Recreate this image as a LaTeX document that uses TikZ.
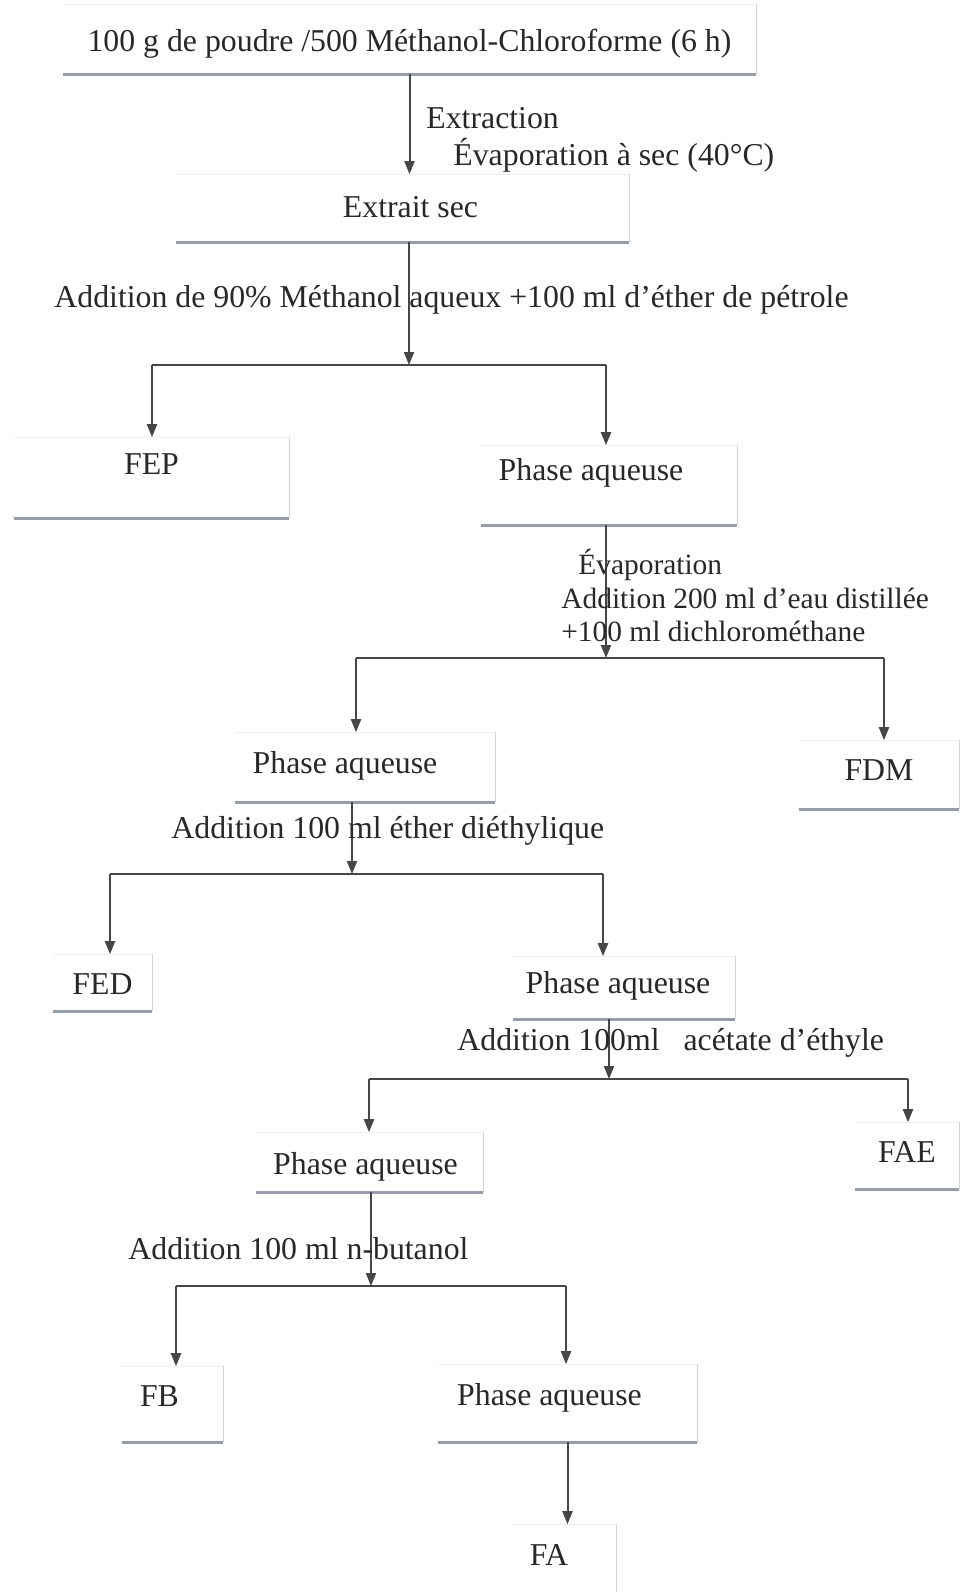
\documentclass[tikz,border=0pt]{standalone}
\usepackage{fontspec}
\setmainfont{Liberation Serif}
\usetikzlibrary{arrows.meta,calc}

\definecolor{trait}{RGB}{70,70,70}
\definecolor{encre}{RGB}{40,40,40}
\definecolor{bordbas}{RGB}{150,156,172}
\definecolor{bordcote}{RGB}{212,212,216}
\definecolor{bordhaut}{RGB}{238,238,241}

\tikzset{
	fl/.style={draw=trait, line width=1pt, -{Triangle[length=6.5pt,width=5pt]}},
	branche/.style={draw=trait, line width=1pt},
	boite/.style={anchor=south, inner xsep=0pt, inner ysep=0pt, minimum width=#1, text=encre,
		append after command={
			(\tikzlastnode.north west) edge[draw=bordhaut, line width=0.5pt] (\tikzlastnode.north east)
			(\tikzlastnode.south east) edge[draw=bordcote, line width=0.6pt] (\tikzlastnode.north east)
			(\tikzlastnode.south west) edge[draw=bordbas, line width=1.5pt] (\tikzlastnode.south east)}},
	etiq/.style={anchor=base west, inner sep=0pt, text=encre},
	petit/.style={font=\fontsize{14.7}{18}\selectfont}
}

\begin{document}
\begin{tikzpicture}[x=0.5pt, y=-0.5pt, font=\fontsize{15.9}{19}\selectfont]
			%%%%% START %%%%%
			\useasboundingbox[fill=white] (0, 0) rectangle (961, 1592);
			
			\node[boite=346.5pt, text height=23.5pt, text depth=11pt] (depart) at (409.5, 74) {100 g de poudre /500 Méthanol-Chloroforme (6 h)};
			\node[boite=226.5pt, text height=21.5pt, text depth=12pt] (extrait) at (402.5, 242) {\hspace*{8pt}Extrait sec};
			
			\node[boite=137.5pt, text height=18.5pt, text depth=21.5pt] (fep) at (151.5, 518) {FEP};
			\node[boite=128pt, text height=17.5pt, text depth=22pt] (pa1) at (609, 525) {Phase aqueuse\hspace*{18pt}};
			
			\node[boite=130pt, text height=20.5pt, text depth=14pt] (pa2) at (365, 802) {Phase aqueuse\hspace*{20pt}};
			\node[boite=80pt, text height=20pt, text depth=14pt] (fdm) at (879, 809) {FDM};
			
			\node[boite=49.5pt, text height=20pt, text depth=8pt] (fed) at (102.5, 1011) {FED};
			\node[boite=111pt, text height=18.5pt, text depth=12.5pt] (pa3) at (624, 1019) {Phase aqueuse\hspace*{6pt}};
			
			\node[boite=113.5pt, text height=21pt, text depth=8.5pt] (pa4) at (369.5, 1192) {Phase aqueuse\hspace*{4pt}};
			\node[boite=52pt, text height=20pt, text depth=13pt] (fae) at (907, 1189) {FAE};
			
			\node[boite=50.5pt, text height=20pt, text depth=17.5pt] (fb) at (172.5, 1442) {FB\hspace*{13pt}};
			\node[boite=129.5pt, text height=20.5pt, text depth=18pt] (pa5) at (567.5, 1442) {Phase aqueuse\hspace*{18pt}};
			
			\node[boite=52pt, text height=20.5pt, text depth=17pt] (fa) at (564, 1600) {FA\hspace*{15pt}};
			
			% points de partage
			\coordinate (j1) at (409, 365); \coordinate (g1) at (152, 365); \coordinate (d1) at (606, 365);
			\coordinate (j2) at (606, 658); \coordinate (g2) at (356, 658); \coordinate (d2) at (884, 658);
			\coordinate (j3) at (352, 874); \coordinate (g3) at (110, 874); \coordinate (d3) at (603, 874);
			\coordinate (j4) at (609, 1079); \coordinate (g4) at (369, 1079); \coordinate (d4) at (908, 1079);
			\coordinate (j5) at (371, 1286); \coordinate (g5) at (176, 1286); \coordinate (d5) at (566, 1286);
			
			\draw[fl] (depart.south) -- (depart.south |- extrait.north);
			
			\draw[fl] (j1 |- extrait.south) -- (j1);
			\draw[branche] (g1) -- (d1);
			\draw[fl] (g1) -- (g1 |- fep.north);
			\draw[fl] (d1) -- (d1 |- pa1.north);
			
			\draw[fl] (j2 |- pa1.south) -- (j2);
			\draw[branche] (g2) -- (d2);
			\draw[fl] (g2) -- (g2 |- pa2.north);
			\draw[fl] (d2) -- (d2 |- fdm.north);
			
			\draw[fl] (j3 |- pa2.south) -- (j3);
			\draw[branche] (g3) -- (d3);
			\draw[fl] (g3) -- (g3 |- fed.north);
			\draw[fl] (d3) -- (d3 |- pa3.north);
			
			\draw[fl] (j4 |- pa3.south) -- (j4);
			\draw[branche] (g4) -- (d4);
			\draw[fl] (g4) -- (g4 |- pa4.north);
			\draw[fl] (d4) -- (d4 |- fae.north);
			
			\draw[fl] (j5 |- pa4.south) -- (j5);
			\draw[branche] (g5) -- (d5);
			\draw[fl] (g5) -- (g5 |- fb.north);
			\draw[fl] (d5) -- (d5 |- pa5.north);
			
			\draw[fl] (pa5.south) -- (pa5.south |- fa.north);
			
			% textes des operations
			\node[etiq] (op1) at (426, 128) {Extraction};
			\node[etiq] (op2) at (453, 165) {Évaporation à sec (40°C)};
			\node[etiq] (op3) at (54, 307) {Addition de 90\% Méthanol aqueux +100 ml d'éther de pétrole};
			\node[etiq, petit] (op4) at (578, 574) {Évaporation};
			\node[etiq, petit] (op5) at (561, 608) {Addition 200 ml d'eau distillée};
			\node[etiq, petit] (op6) at (561, 641) {+100 ml dichlorométhane};
			\node[etiq] (op7) at (171, 838) {Addition 100 ml éther diéthylique};
			\node[etiq] (op8) at (457, 1050) {Addition 100ml~~ acétate d'éthyle};
			\node[etiq] (op9) at (128, 1259) {Addition 100 ml n-butanol};
			
			%%%%% END %%%%%
\end{tikzpicture}
\end{document}
